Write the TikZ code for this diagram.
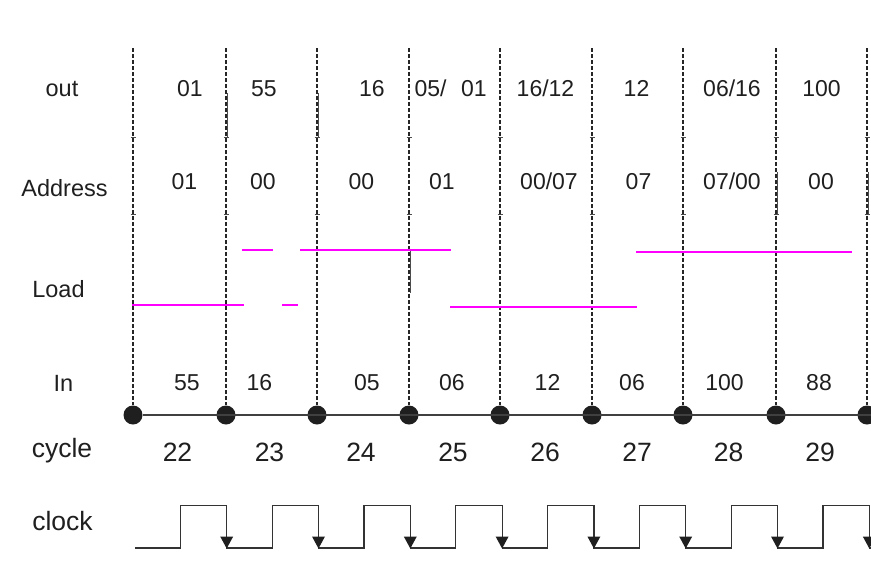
\documentclass[tikz,border=0pt]{standalone}
\usepackage{fontspec}
\setmainfont{Liberation Sans}
\definecolor{loadpink}{RGB}{255,0,255}
\begin{document}
\begin{tikzpicture}[x=1pt,y=-1pt,
  val/.style={font=\fontsize{23}{26}\selectfont, inner sep=0pt, anchor=base, text=black!88},
  lab/.style={font=\fontsize{23.5}{27}\selectfont, inner sep=0pt, anchor=base, text=black!88},
  big/.style={font=\fontsize{26.5}{30}\selectfont, inner sep=0pt, anchor=base, text=black!88},
  gridline/.style={dash pattern=on 3.5pt off 2.5pt, line width=1.7pt, black!85},
  dot/.style={circle, fill=black!88, minimum size=19pt, inner sep=0pt},
  axis/.style={line width=1.3pt, black!75},
  loadline/.style={loadpink, line width=2pt},
  clk/.style={line width=1.2pt, black!80},
  tickmark/.style={line width=0.8pt, black!70},
  seg/.style={line width=0.9pt, black!70}]
\useasboundingbox (0,0) rectangle (871,582);

% grid lines and dots
\foreach \x [count=\i from 0] in {133,226,317,409,500,592,683,776,867} {
  \node[dot] (d\i) at (\x,415) {};
  \coordinate (t\i) at (\x,48);
  \draw[gridline] (t\i) -- (d\i.north);
  \draw[tickmark] (\x-2.5,137) -- (\x+2.5,137);
  \draw[tickmark] (\x-2.5,214) -- (\x+2.5,214);
}
\coordinate (axend) at (871,415);
\draw[axis] (d0) -- (axend);

% small solid segments
\draw[seg] (227,93) -- (227,137);
\draw[seg] (318.5,93) -- (318.5,137);
\draw[seg] (410.5,250) -- (410.5,293);
\draw[seg] (777.5,172) -- (777.5,214);
\draw[seg] (868.5,172) -- (868.5,214);

% row labels
\node[lab] (lout) at (62,96) {out};
\node[lab] (laddr) at (64.5,196) {Address};
\node[lab] (lload) at (58.5,297) {Load};
\node[lab] (lin) at (63.5,391) {In};
\node[big] (lcycle) at (62,457) {cycle};
\node[big] (lclock) at (62.5,530) {clock};

% out values
\foreach \x/\t [count=\i] in {190/{01},264/{55},372/{16},430.5/{05/},474/{01},545.5/{16/12},636.5/{12},732/{06/16},821.5/{100}}
  \node[val] (o\i) at (\x,96) {\t};

% address values
\foreach \x/\t [count=\i] in {184.5/{01},263/{00},361.5/{00},442/{01},549/{00/07},638.5/{07},732/{07/00},821/{00}}
  \node[val] (a\i) at (\x,189) {\t};

% in values
\foreach \x/\t [count=\i] in {187/{55},259.5/{16},367/{05},452/{06},547.5/{12},632/{06},724.5/{100},819/{88}}
  \node[val] (n\i) at (\x,390) {\t};

% cycle numbers
\foreach \x/\t [count=\i] in {177.5/22,269.5/23,361/24,453/25,545/26,637/27,728.5/28,820/29}
  \node[big] (c\i) at (\x,461) {\t};

% load signal
\draw[loadline] (132,305) -- (244,305);
\draw[loadline] (282,305) -- (298,305);
\draw[loadline] (242,250) -- (273,250);
\draw[loadline] (300,250) -- (451,250);
\draw[loadline] (450,307) -- (637,307);
\draw[loadline] (636,252) -- (852,252);

% clock
\draw[clk] (135,548)
  \foreach \k in {0,...,7} {
    -- ({180.3+91.8*\k},548) -- ({180.3+91.8*\k},505.7) -- ({226.7+91.8*\k},505.7) -- ({226.7+91.8*\k},548)
  } -- (871,548);
\foreach \k in {0,...,7}
  \fill[black!88] ({226.7+91.8*\k-6.5},536.5) -- ({226.7+91.8*\k+6.5},536.5) -- ({226.7+91.8*\k},548.5) -- cycle;
\end{tikzpicture}
\end{document}
